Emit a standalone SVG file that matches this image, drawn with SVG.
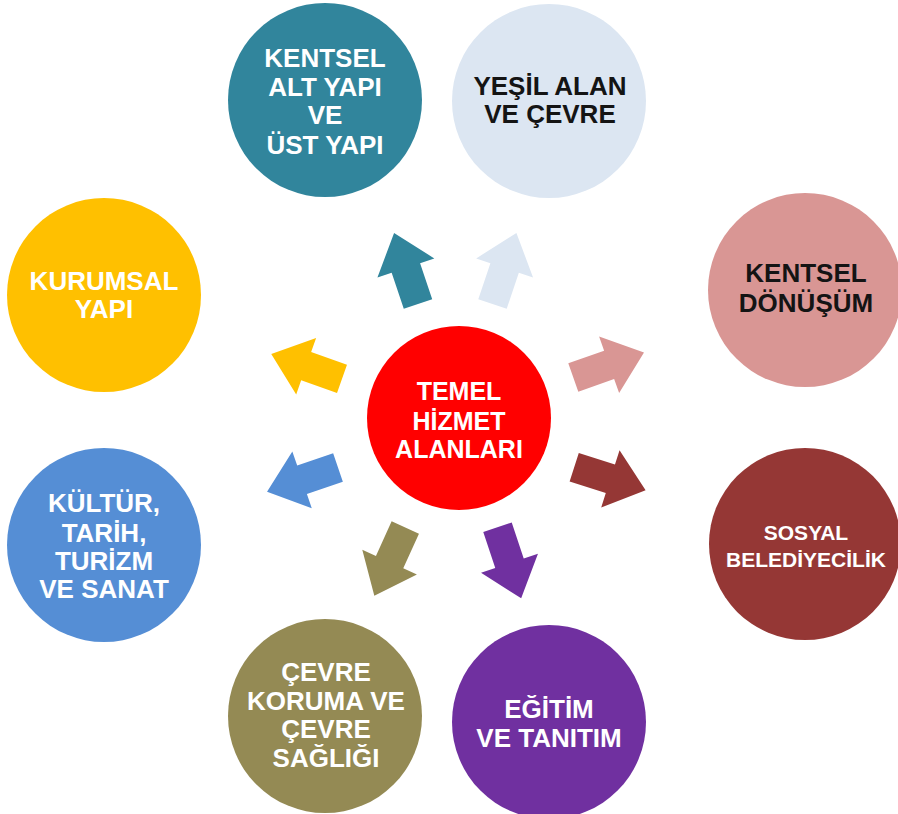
<svg xmlns="http://www.w3.org/2000/svg" width="898" height="814" viewBox="0 0 898 814">
  <defs>
    <style>
      text { font-family: "Liberation Sans", Arial, sans-serif; font-weight: bold; text-anchor: middle; }
      .w { fill: #ffffff; }
      .k { fill: #141414; }
      .t26 { font-size: 26px; }
      .t25 { font-size: 25px; }
      .t21 { font-size: 21px; }
    </style>
    <polygon id="arr" points="0,-15 38,-15 38,-30 75,0 38,30 38,15 0,15"/>
  </defs>
  <rect width="898" height="814" fill="#ffffff"/>

  <g id="connectors">
    <use href="#arr" fill="#31859c" transform="translate(418,304) rotate(-108.6)"/>
    <use href="#arr" fill="#dce6f2" transform="translate(492.5,304) rotate(-71.4)"/>
    <use href="#arr" fill="#d99694" transform="translate(573.3,377.5) rotate(-19.5)"/>
    <use href="#arr" fill="#953735" transform="translate(574.2,467.2) rotate(17.8)"/>
    <use href="#arr" fill="#7030a0" transform="translate(497.5,527.2) rotate(71.6)"/>
    <use href="#arr" fill="#948a54" transform="translate(405.3,527.5) rotate(114.4)"/>
    <use href="#arr" fill="#558ed5" transform="translate(338,467.5) rotate(161.1)"/>
    <use href="#arr" fill="#ffc000" transform="translate(342,378.8) rotate(-160.6)"/>
  </g>

  <g id="center">
    <circle cx="459" cy="418" r="92" fill="#ff0000"/>
    <text class="w t25" x="459" y="400">TEMEL</text>
    <text class="w t25" x="459" y="430">HİZMET</text>
    <text class="w t25" x="459" y="458">ALANLARI</text>
  </g>

  <g id="kentsel-alt-yapi">
    <circle cx="325" cy="100" r="97" fill="#31859c"/>
    <text class="w t26" x="325" y="67">KENTSEL</text>
    <text class="w t26" x="325" y="96">ALT YAPI</text>
    <text class="w t26" x="325" y="124">VE</text>
    <text class="w t26" x="325" y="154">ÜST YAPI</text>
  </g>

  <g id="yesil-alan">
    <circle cx="549" cy="101" r="97" fill="#dce6f2"/>
    <text class="k t26" x="550" y="95">YEŞİL ALAN</text>
    <text class="k t26" x="550" y="123">VE ÇEVRE</text>
  </g>

  <g id="kentsel-donusum">
    <circle cx="805" cy="290" r="97" fill="#d99694"/>
    <text class="k t26" x="806" y="282">KENTSEL</text>
    <text class="k t26" x="806" y="312">DÖNÜŞÜM</text>
  </g>

  <g id="sosyal-belediyecilik">
    <circle cx="805" cy="544" r="96" fill="#953735"/>
    <text class="w t21" x="806" y="540">SOSYAL</text>
    <text class="w t21" x="806" y="567">BELEDİYECİLİK</text>
  </g>

  <g id="egitim">
    <circle cx="549" cy="722" r="97" fill="#7030a0"/>
    <text class="w t26" x="549" y="718">EĞİTİM</text>
    <text class="w t26" x="549" y="747">VE TANITIM</text>
  </g>

  <g id="cevre-koruma">
    <circle cx="325" cy="716" r="97" fill="#948a54"/>
    <text class="w t26" x="326" y="681">ÇEVRE</text>
    <text class="w t26" x="326" y="710">KORUMA VE</text>
    <text class="w t26" x="326" y="738">ÇEVRE</text>
    <text class="w t26" x="326" y="767">SAĞLIĞI</text>
  </g>

  <g id="kultur">
    <circle cx="104" cy="545" r="97" fill="#558ed5"/>
    <text class="w t26" x="104" y="512">KÜLTÜR,</text>
    <text class="w t26" x="104" y="542">TARİH,</text>
    <text class="w t26" x="104" y="570">TURİZM</text>
    <text class="w t26" x="104" y="598">VE SANAT</text>
  </g>

  <g id="kurumsal">
    <circle cx="104" cy="295" r="97" fill="#ffc000"/>
    <text class="w t26" x="104" y="290">KURUMSAL</text>
    <text class="w t26" x="104" y="318">YAPI</text>
  </g>
</svg>
